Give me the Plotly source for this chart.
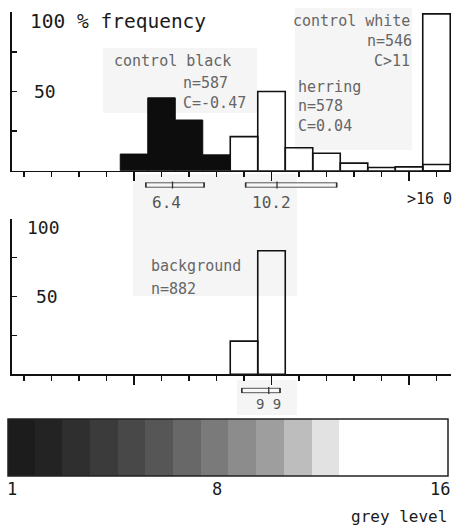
import plotly.graph_objects as go

W, H = 452, 531

# ---------------- data ----------------
levels = list(range(1, 17))

black_levels = [5, 6, 7, 8]
black_pct = [10.5, 46, 32, 10]

herring_levels = [9, 10, 11, 12, 13, 14, 15, 16]
herring_pct = [21.5, 50, 14.5, 11, 4.8, 2.0, 2.4, 3.9]

white_levels = [16]
white_pct = [99]

bg_levels = [9, 10]
bg_pct = [21.3, 79.4]

top_means = [6.4, 10.2]
top_sd_low = [5.43, 9.06]
top_sd_high = [7.55, 12.37]
top_mean_labels = ["6.4", "10.2"]

bg_means = [9.9]
bg_sd_low = [8.92]
bg_sd_high = [10.31]
bg_mean_labels = ["9 9"]

grey_tones = ["#1c1c1c", "#232323", "#2f2f2f", "#3b3b3b", "#484848", "#565656",
              "#686868", "#7a7a7a", "#8c8c8c", "#9e9e9e", "#bdbdbd", "#e2e2e2",
              "#ffffff", "#ffffff", "#ffffff", "#ffffff"]
grey_labels = ["1", "8", "16"]


def px(x):
    return x / W


def py(y):
    return 1 - y / H


FONT = "DejaVu Sans Mono"
DARK = "#1a1a1a"
GREY = "#666666"
LINE = "#111111"

fig = go.Figure()

# ---------------- top histogram ----------------
fig.add_bar(x=white_levels, y=white_pct, width=1, xaxis="x", yaxis="y",
            marker=dict(color="rgba(255,255,255,0)", line=dict(color=LINE, width=1.6)))
fig.add_bar(x=black_levels, y=black_pct, width=1, xaxis="x", yaxis="y",
            marker=dict(color="#0d0d0d", line=dict(color="#0d0d0d", width=1)))
fig.add_bar(x=herring_levels, y=herring_pct, width=1, xaxis="x", yaxis="y",
            marker=dict(color="rgba(255,255,255,0)", line=dict(color=LINE, width=1.6)))

# ---------------- bottom histogram ----------------
fig.add_bar(x=bg_levels, y=bg_pct, width=1, xaxis="x2", yaxis="y2",
            marker=dict(color="rgba(255,255,255,0)", line=dict(color=LINE, width=1.6)))

# ---------------- grey scale ----------------
cs = [[(k - 1) / 15, c] for k, c in zip(levels, grey_tones)]
fig.add_heatmap(x=levels, y=[0], z=[levels], colorscale=cs, zmin=1, zmax=16,
                showscale=False, xaxis="x3", yaxis="y3", hoverinfo="skip")

hist_xrange = [1 + (12 - 24) / 27.5, 1 + (451 - 24) / 27.5]
xcommon = dict(range=hist_xrange, domain=[px(12), px(451)], showline=True,
               linecolor=LINE, linewidth=1.6, ticks="outside", tickvals=[5, 10, 15],
               ticklen=9, tickwidth=1.4, tickcolor=LINE, showticklabels=False,
               minor=dict(ticks="outside", dtick=1, tick0=0, ticklen=5,
                          tickwidth=1.3, tickcolor=LINE),
               showgrid=False, zeroline=False, fixedrange=True)
ycommon = dict(range=[0, 100], showline=True, linecolor=LINE, linewidth=1.6,
               ticks="inside", tickvals=[25, 50, 75, 100], ticklen=5, tickwidth=1.3,
               tickcolor=LINE, showticklabels=False, showgrid=False, zeroline=False)

fig.update_layout(
    width=W, height=H,
    margin=dict(l=0, r=0, t=0, b=0),
    paper_bgcolor="white", plot_bgcolor="rgba(0,0,0,0)",
    barmode="overlay", bargap=0, showlegend=False,
    font=dict(family=FONT, color=DARK),
    xaxis=dict(**xcommon, anchor="y"),
    yaxis=dict(**ycommon, domain=[py(170.7), py(12.3)], anchor="x"),
    xaxis2=dict(**xcommon, anchor="y2"),
    yaxis2=dict(**ycommon, domain=[py(374.3), py(218.7)], anchor="x2"),
    xaxis3=dict(range=[0.538, 16.42], domain=[px(8), px(448)], anchor="y3",
                showticklabels=False, ticks="", showgrid=False, zeroline=False),
    yaxis3=dict(range=[-0.5, 0.5], domain=[py(476), py(419)], anchor="x3",
                showticklabels=False, ticks="", showgrid=False, zeroline=False),
)

shapes = []
# faint scan patches
for x0, y0, x1, y1 in [(103, 48, 257, 113), (295, 8, 412, 150),
                       (133, 174, 297, 296), (237, 380, 297, 415)]:
    shapes.append(dict(type="rect", xref="paper", yref="paper", x0=px(x0), x1=px(x1),
                       y0=py(y1), y1=py(y0), fillcolor="#f5f5f5",
                       line=dict(width=0), layer="below"))

# grey scale outline
shapes.append(dict(type="rect", xref="x3 domain", yref="y3 domain", x0=0, x1=1,
                   y0=0, y1=1, line=dict(color="#222", width=1.5)))


def sd_bar(xref, lo, hi, m, yc):
    shapes.append(dict(type="rect", xref=xref, yref="paper", x0=lo, x1=hi,
                       y0=py(yc + 2.2), y1=py(yc - 2.2), fillcolor="#f8f8f8",
                       line=dict(color="#555", width=1)))
    shapes.append(dict(type="line", xref=xref, yref="paper", x0=m, x1=m,
                       y0=py(yc + 3.5), y1=py(yc - 3.5), line=dict(color="#333", width=1.3)))
    for e in (lo, hi):
        shapes.append(dict(type="line", xref=xref, yref="paper", x0=e, x1=e,
                           y0=py(yc + 2.5), y1=py(yc - 2.5), line=dict(color="#333", width=1.6)))


for m, lo, hi in zip(top_means, top_sd_low, top_sd_high):
    sd_bar("x", lo, hi, m, 185)
for m, lo, hi in zip(bg_means, bg_sd_low, bg_sd_high):
    sd_bar("x2", lo, hi, m, 390.5)

fig.update_layout(shapes=shapes)

ann = []


def text(t, x, y, size, color=DARK, xanchor="left", xref="paper", xshift=0):
    ann.append(dict(text=t, x=x if xref != "paper" else px(x), y=py(y),
                    xref=xref, yref="paper", xanchor=xanchor, yanchor="middle",
                    showarrow=False, xshift=xshift,
                    font=dict(family=FONT, size=size, color=color)))


text("100 % frequency", 28, 21.5, 19.5)
text("50", 45, 91, 18, xanchor="center")
text("100", 43, 227, 18, xanchor="center")
text("50", 47, 296, 18, xanchor="center")

text("control black", 112, 61, 15, GREY)
text("n=587", 181, 83, 15, GREY)
text("C=-0.47", 181, 103, 15, GREY)
text("control white", 412, 21.5, 15, GREY, xanchor="right")
text("n=546", 414, 41, 15, GREY, xanchor="right")
text("C>11", 412, 61, 15, GREY, xanchor="right")
text("herring", 296, 86.5, 15, GREY)
text("n=578", 296, 106, 15, GREY)
text("C=0.04", 296, 126, 15, GREY)
text(">16 0", 429, 198.5, 15, DARK, xanchor="center")

for m, lab in zip(top_means, top_mean_labels):
    text(lab, m, 202.5, 16, "#555", xanchor="center", xref="x", xshift=-6)
for m, lab in zip(bg_means, bg_mean_labels):
    text(lab, m, 404, 14, "#555", xanchor="center", xref="x2")

text("background", 149, 265.5, 15, GREY)
text("n=882", 149, 288.5, 15, GREY)

for lab, xc in zip(grey_labels, [12, 217, 440]):
    text(lab, xc, 489, 17, xanchor="center")
text("grey level", 449, 516, 16, xanchor="right")

fig.update_layout(annotations=ann)

fig.write_html("out.html", config=dict(displayModeBar=False, staticPlot=True),
               post_script="document.body.style.margin='0px';document.body.style.overflow='hidden';")
